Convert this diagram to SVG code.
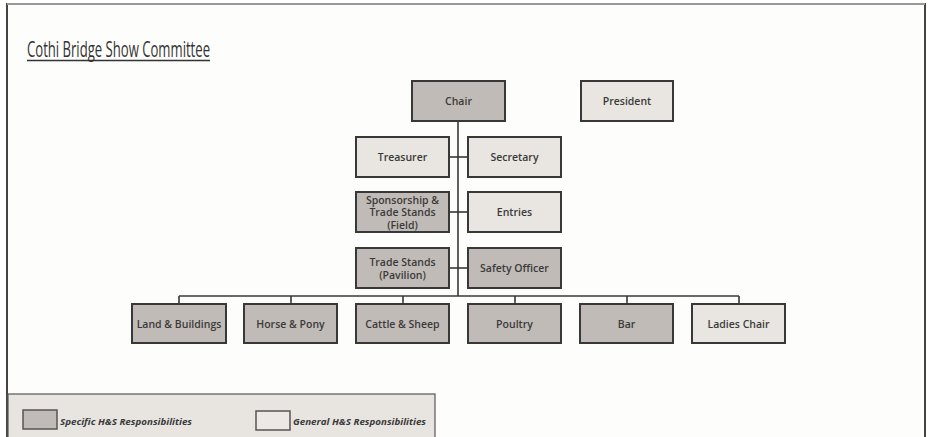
<svg xmlns="http://www.w3.org/2000/svg" width="928" height="437" viewBox="0 0 928 437">
<style>
.box{stroke:#383838;stroke-width:2}
.dk{fill:#c1bbb7}
.lt{fill:#e9e6e2}
.lbl{font-family:"Open Sans","Liberation Sans",sans-serif;font-size:10.5px;font-weight:600;fill:#3a3a3a;text-anchor:middle;dominant-baseline:central}
.con{stroke:#383838;stroke-width:1.6;fill:none}
.leg{font-family:"Open Sans","Liberation Sans",sans-serif;font-size:8px;font-style:italic;font-weight:700;fill:#3a3a3a;dominant-baseline:central}
</style>
<rect x="0" y="0" width="928" height="437" fill="#ffffff"/>
<rect x="7" y="4" width="918" height="445" fill="#fdfdfc" stroke="#444" stroke-width="2"/>
<line x1="7" y1="4" x2="925" y2="4" stroke="#999" stroke-width="2"/>
<text x="27" y="57" font-family="Open Sans, Liberation Sans, sans-serif" font-size="21" fill="#333" textLength="183" lengthAdjust="spacingAndGlyphs">Cothi Bridge Show Committee</text>
<line x1="27" y1="60.5" x2="210" y2="60.5" stroke="#333" stroke-width="1.5"/>
<g id="connectors">
<line class="con" x1="458" y1="121" x2="458" y2="296"/>
<line class="con" x1="449" y1="157" x2="468" y2="157"/>
<line class="con" x1="449" y1="212" x2="468" y2="212"/>
<line class="con" x1="449" y1="268" x2="468" y2="268"/>
<line class="con" x1="179" y1="296" x2="739" y2="296"/>
<line class="con" x1="179" y1="296" x2="179" y2="304"/>
<line class="con" x1="291" y1="296" x2="291" y2="304"/>
<line class="con" x1="403" y1="296" x2="403" y2="304"/>
<line class="con" x1="515" y1="296" x2="515" y2="304"/>
<line class="con" x1="627" y1="296" x2="627" y2="304"/>
<line class="con" x1="739" y1="296" x2="739" y2="304"/>
</g>
<g id="chair"><rect class="box dk" x="412" y="81" width="93" height="40"/><text class="lbl" x="458.5" y="101">Chair</text></g>
<g id="president"><rect class="box lt" x="581" y="81" width="92" height="40"/><text class="lbl" x="627" y="101">President</text></g>
<g id="treasurer"><rect class="box lt" x="356" y="137" width="93" height="40"/><text class="lbl" x="402.5" y="157">Treasurer</text></g>
<g id="secretary"><rect class="box lt" x="468" y="137" width="93" height="40"/><text class="lbl" x="514.5" y="157">Secretary</text></g>
<g id="sponsorship"><rect class="box dk" x="356" y="192" width="93" height="40"/><text class="lbl" x="402.5" y="199.5">Sponsorship &amp;</text><text class="lbl" x="402.5" y="212">Trade Stands</text><text class="lbl" x="402.5" y="224.5">(Field)</text></g>
<g id="entries"><rect class="box lt" x="468" y="192" width="93" height="40"/><text class="lbl" x="514.5" y="212">Entries</text></g>
<g id="tradestands"><rect class="box dk" x="356" y="248" width="93" height="40"/><text class="lbl" x="402.5" y="261.5">Trade Stands</text><text class="lbl" x="402.5" y="274.5">(Pavilion)</text></g>
<g id="safety"><rect class="box dk" x="468" y="248" width="93" height="40"/><text class="lbl" x="514.5" y="268">Safety Officer</text></g>
<g id="land"><rect class="box dk" x="132" y="304" width="94" height="39"/><text class="lbl" x="179" y="323.5">Land &amp; Buildings</text></g>
<g id="horse"><rect class="box dk" x="244" y="304" width="93" height="39"/><text class="lbl" x="290.5" y="323.5">Horse &amp; Pony</text></g>
<g id="cattle"><rect class="box dk" x="356" y="304" width="93" height="39"/><text class="lbl" x="402.5" y="323.5">Cattle &amp; Sheep</text></g>
<g id="poultry"><rect class="box dk" x="468" y="304" width="93" height="39"/><text class="lbl" x="514.5" y="323.5">Poultry</text></g>
<g id="bar"><rect class="box dk" x="580" y="304" width="93" height="39"/><text class="lbl" x="626.5" y="323.5">Bar</text></g>
<g id="ladies"><rect class="box lt" x="692" y="304" width="93" height="39"/><text class="lbl" x="738.5" y="323.5">Ladies Chair</text></g>
<g id="legend">
<rect x="8" y="394" width="427" height="50" fill="#e8e5e1" stroke="#555" stroke-width="1.2"/>
<rect x="23" y="410" width="34" height="19" fill="#c1bbb7" stroke="#555" stroke-width="1.5"/>
<text class="leg" x="60" y="421" textLength="132" lengthAdjust="spacingAndGlyphs">Specific H&amp;S Responsibilities</text>
<rect x="256" y="411" width="34" height="19" fill="#ece9e5" stroke="#555" stroke-width="1.5"/>
<text class="leg" x="293" y="421" textLength="133" lengthAdjust="spacingAndGlyphs">General H&amp;S Responsibilities</text>
</g>
</svg>
